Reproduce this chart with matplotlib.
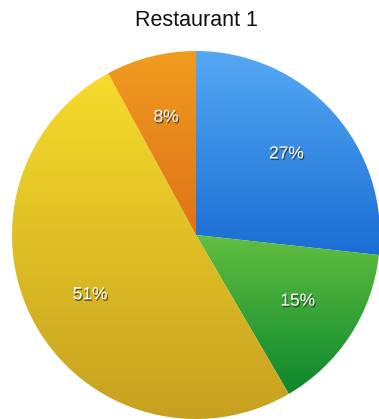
# Pie chart of share per category for Restaurant 1

import matplotlib.pyplot as plt
import matplotlib.patheffects as pe
from matplotlib.colors import LinearSegmentedColormap
import numpy as np

plt.rcParams['font.family'] = ['Liberation Sans', 'DejaVu Sans']

# Data to plot (clockwise from the top)
shares = [27, 15, 51, 8]
# top / bottom colour of each wedge's gradient
tops = ["#55a9f3", "#62be40", "#f6dc2a", "#f09c20"]
bottoms = ["#1a6dd3", "#0b882d", "#c7a020", "#df7218"]

total = sum(shares)

fig = plt.figure(figsize=(3.79, 4.19), dpi=100)
ax = fig.add_axes([0, 0, 1, 1])

r = 184
wedges, _, autotexts = ax.pie(
    shares, startangle=90, counterclock=False, radius=1,
    autopct=lambda p: "%.0f%%" % (p * total / 100), pctdistance=0.66,
    wedgeprops=dict(linewidth=0),
    textprops=dict(color="white", fontsize=12.5))

# vertical gradient fill inside every wedge
grad = np.linspace(0, 1, 256).reshape(-1, 1)
for w, c1, c2 in zip(wedges, tops, bottoms):
    w.set_facecolor("none")
    verts = w.get_path().vertices
    x0, x1 = verts[:, 0].min(), verts[:, 0].max()
    y0, y1 = verts[:, 1].min(), verts[:, 1].max()
    cmap = LinearSegmentedColormap.from_list("g", [c2, c1])
    im = ax.imshow(grad, cmap=cmap, origin="lower", aspect="auto",
                   extent=(x0, x1, y0, y1), zorder=0.5)
    im.set_clip_path(w)

for t in autotexts:
    t.set_zorder(3)
    t.set_path_effects([pe.withSimplePatchShadow(offset=(0.8, -1.2),
                                                 shadow_rgbFace="#333333",
                                                 alpha=0.8)])

# place the pie: centre at (196, 235) px from the top-left corner
W, H = 379, 419
cx, cy = 196, 235
ax.set_xlim(-cx / r, (W - cx) / r)
ax.set_ylim(-(H - cy) / r, cy / r)
ax.set_aspect("equal")
ax.axis("off")

fig.text(196 / W, 1 - 20 / H, "Restaurant 1", ha="center", va="center",
         fontsize=15.5, color="#111111")

plt.savefig("out.png", dpi=100)
